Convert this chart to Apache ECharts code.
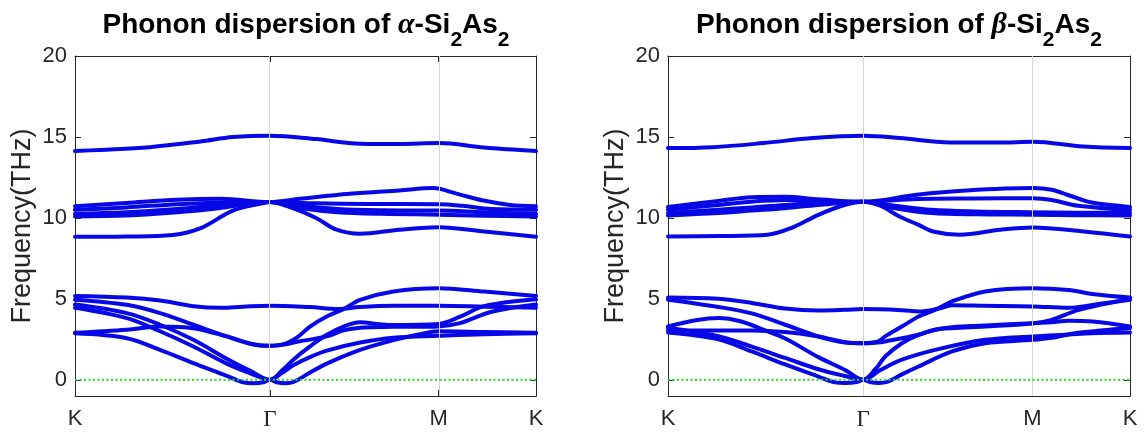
<!DOCTYPE html>
<html><head><meta charset="utf-8">
<script src="https://cdn.jsdelivr.net/npm/echarts@6/dist/echarts.min.js"></script>
<style>html,body{margin:0;padding:0;background:#fff}#c{width:1147px;height:439px}</style>
</head><body><div id="c"></div>
<script>
// high-symmetry path K - Γ - M - K (path length units, hexagonal BZ)
const pathLabels = ['K', 'Γ', 'M', 'K'];
const pathPos = [0, 1.3333, 2.4880, 3.1547];
const yTicks = [0, 5, 10, 15, 20];
const yRange = [-1, 20];
const titleAlpha = 'α';
const titleBeta = 'β';

// ---- α-Si2As2 bands: [path position, frequency THz]
const alphaB1 = [[0,14.13],[0.17,14.2],[0.51,14.37],[0.86,14.72],[1.08,14.99],[1.3333,15.08],[1.65,14.87],[1.95,14.58],[2.22,14.56],[2.488,14.62],[2.8,14.35],[3.1547,14.13]];
const alphaB2 = [[0,10.72],[0.35,10.92],[0.7,11.12],[1.0,11.18],[1.3333,10.98],[1.54,11.18],[1.88,11.49],[2.22,11.7],[2.45,11.84],[2.61,11.5],[2.795,11.07],[2.977,10.8],[3.1547,10.72]];
const alphaB3 = [[0,10.5],[0.35,10.65],[0.7,10.85],[1.0,10.95],[1.3333,10.98],[1.65,10.9],[2.0,10.86],[2.488,10.85],[2.65,10.75],[2.85,10.55],[3.1547,10.5]];
const alphaB4 = [[0,10.25],[0.35,10.35],[0.7,10.55],[1.0,10.78],[1.3333,10.98],[1.55,10.75],[1.8,10.55],[2.1,10.47],[2.488,10.45],[2.8,10.35],[3.1547,10.25]];
const alphaB5 = [[0,10.09],[0.35,10.15],[0.7,10.35],[1.0,10.62],[1.3333,10.98],[1.55,10.6],[1.8,10.35],[2.1,10.25],[2.488,10.2],[2.8,10.13],[3.1547,10.09]];
const alphaB6 = [[0,8.83],[0.35,8.85],[0.67,8.95],[0.86,9.37],[1.08,10.45],[1.27,10.88],[1.3333,10.98],[1.49,10.6],[1.65,9.99],[1.79,9.27],[1.95,9.02],[2.22,9.27],[2.488,9.43],[2.8,9.16],[3.1547,8.83]];
const alphaB7 = [[0,5.18],[0.354,5.08],[0.582,4.9],[0.81,4.55],[1.0,4.45],[1.15,4.52],[1.3333,4.58],[1.608,4.49],[1.8,4.38],[1.95,4.5],[2.18,4.57],[2.488,4.57],[2.8,4.52],[3.1547,4.45]];
const alphaB8 = [[0,4.95],[0.354,4.63],[0.582,4.12],[0.81,3.4],[1.038,2.68],[1.22,2.18],[1.3333,2.1],[1.43,2.2],[1.52,2.62],[1.608,3.29],[1.723,3.91],[1.837,4.36],[1.951,4.94],[2.179,5.46],[2.488,5.66],[2.8,5.45],[3.1547,5.18]];
const alphaB9 = [[0,4.65],[0.354,4.12],[0.582,3.4],[0.81,2.47],[1.038,1.3],[1.2,0.55],[1.3333,0],[1.42,0.6],[1.494,1.24],[1.608,2.06],[1.723,2.78],[1.837,3.29],[1.951,3.55],[2.07,3.45],[2.179,3.38],[2.488,3.45],[2.635,3.9],[2.8,4.55],[3.1547,4.97]];
const alphaB10 = [[0,4.45],[0.354,3.81],[0.582,3.0],[0.81,2.06],[1.038,1.0],[1.2,0.4],[1.3333,0],[1.42,0.45],[1.494,0.9],[1.608,1.4],[1.723,1.8],[1.951,2.3],[2.179,2.6],[2.488,2.72],[2.8,2.82],[3.1547,2.87]];
const alphaB11 = [[0,2.9],[0.354,3.09],[0.582,3.29],[0.81,3.19],[1.038,2.68],[1.22,2.2],[1.3333,2.1],[1.43,2.18],[1.52,2.35],[1.723,2.68],[1.837,3.05],[1.951,3.22],[2.179,3.27],[2.488,3.3],[2.635,3.5],[2.85,4.2],[3.1547,4.65]];
const alphaB12 = [[0,2.87],[0.354,2.57],[0.582,1.85],[0.81,1.03],[1.038,0.25],[1.152,-0.16],[1.22,-0.21],[1.29,-0.15],[1.3333,0],[1.38,-0.15],[1.44,-0.21],[1.5,-0.12],[1.6,0.4],[1.723,1.0],[1.951,1.85],[2.179,2.45],[2.35,2.8],[2.488,3.0],[2.8,2.95],[3.1547,2.9]];

// ---- β-Si2As2 bands
const betaB1 = [[0,14.31],[0.306,14.37],[0.65,14.62],[0.99,14.93],[1.3333,15.07],[1.583,14.93],[1.925,14.66],[2.266,14.66],[2.49,14.7],[2.836,14.41],[3.1547,14.31]];
const betaB2 = [[0,10.68],[0.344,11.05],[0.572,11.28],[0.8,11.3],[1.027,11.15],[1.3333,11.0],[1.7,11.43],[2.04,11.69],[2.49,11.84],[2.62,11.74],[2.736,11.4],[2.895,10.95],[3.1547,10.68]];
const betaB3 = [[0,10.5],[0.344,10.8],[0.572,11.0],[0.8,11.1],[1.027,11.05],[1.3333,11.0],[1.7,11.16],[2.1,11.2],[2.49,11.22],[2.62,11.1],[2.8,10.75],[3.1547,10.5]];
const betaB4 = [[0,10.3],[0.344,10.5],[0.572,10.65],[0.8,10.8],[1.027,10.9],[1.3333,11.0],[1.55,10.75],[1.8,10.5],[2.1,10.4],[2.49,10.35],[2.8,10.32],[3.1547,10.3]];
const betaB5 = [[0,10.15],[0.344,10.3],[0.572,10.45],[0.8,10.6],[1.027,10.8],[1.3333,11.0],[1.55,10.6],[1.8,10.3],[2.1,10.22],[2.49,10.2],[2.8,10.17],[3.1547,10.15]];
const betaB6 = [[0,8.85],[0.344,8.88],[0.68,8.96],[0.84,9.37],[1.027,10.19],[1.21,10.81],[1.3333,11.0],[1.45,10.75],[1.58,10.09],[1.711,9.57],[1.81,9.16],[1.99,8.96],[2.27,9.27],[2.49,9.41],[2.84,9.16],[3.1547,8.85]];
const betaB7 = [[0,5.08],[0.344,5.0],[0.572,4.75],[0.8,4.4],[1.027,4.28],[1.21,4.32],[1.3333,4.37],[1.6,4.3],[1.711,4.22],[1.85,4.4],[1.939,4.6],[2.166,4.57],[2.49,4.53],[2.736,4.45],[2.95,4.7],[3.1547,4.95]];
const betaB8 = [[0,4.95],[0.344,4.5],[0.572,4.1],[0.8,3.4],[1.027,2.68],[1.21,2.3],[1.3333,2.26],[1.43,2.35],[1.483,2.68],[1.597,3.29],[1.711,3.91],[1.824,4.32],[1.939,4.84],[2.166,5.46],[2.49,5.66],[2.736,5.55],[2.895,5.3],[3.1547,5.08]];
const betaB9 = [[0,3.3],[0.2,3.7],[0.344,3.81],[0.5,3.6],[0.65,3.1],[0.8,2.55],[1.027,1.4],[1.21,0.6],[1.3333,0],[1.42,0.7],[1.483,1.44],[1.597,2.26],[1.711,2.78],[1.824,3.09],[1.939,3.25],[2.166,3.35],[2.49,3.5],[2.62,3.55],[2.736,3.65],[2.9,3.6],[3.1547,3.3]];
const betaB10 = [[0,3.05],[0.344,3.05],[0.572,3.05],[0.8,2.95],[1.027,2.68],[1.21,2.32],[1.3333,2.26],[1.43,2.3],[1.483,2.37],[1.711,2.78],[1.824,3.09],[1.939,3.19],[2.166,3.29],[2.49,3.48],[2.62,3.7],[2.8,4.3],[3.1547,5.0]];
const betaB11 = [[0,3.2],[0.344,2.7],[0.572,2.05],[0.8,1.35],[1.027,0.65],[1.2,0.25],[1.3333,0],[1.45,0.6],[1.597,1.24],[1.824,1.85],[2.166,2.47],[2.49,2.68],[2.736,2.8],[2.895,2.88],[3.1547,2.92]];
const betaB12 = [[0,2.92],[0.344,2.5],[0.572,1.75],[0.8,0.95],[1.027,0.2],[1.14,-0.16],[1.21,-0.2],[1.29,-0.14],[1.3333,0],[1.38,-0.14],[1.44,-0.2],[1.5,-0.12],[1.6,0.35],[1.711,0.82],[1.939,1.75],[2.166,2.26],[2.49,2.47],[2.62,2.6],[2.8,2.9],[3.1547,3.2]];

const alphaBands = [alphaB1,alphaB2,alphaB3,alphaB4,alphaB5,alphaB6,alphaB7,alphaB8,alphaB9,alphaB10,alphaB11,alphaB12];
const betaBands = [betaB1,betaB2,betaB3,betaB4,betaB5,betaB6,betaB7,betaB8,betaB9,betaB10,betaB11,betaB12];

const AX = '#262626';
const BLUE = '#0808e6';
const xMax = pathPos[pathPos.length - 1];

function labelFor(v) {
  let best = 0;
  for (let i = 1; i < pathPos.length; i++) if (Math.abs(pathPos[i] - v) < Math.abs(pathPos[best] - v)) best = i;
  return pathLabels[best] === 'Γ' ? '{g|Γ}' : pathLabels[best];
}

function makeTitle(greek, cx) {
  return {
    text: '{n|Phonon dispersion of }{g|' + greek + '}{n|-Si}{s|2}{n|As}{s|2}',
    left: cx, top: 0, textAlign: 'center', padding: 0,
    textStyle: {
      rich: {
        n: { fontFamily: 'Liberation Sans', fontWeight: 'bold', fontSize: 28, color: '#000' },
        g: { fontFamily: 'Liberation Serif', fontStyle: 'italic', fontSize: 30, color: '#000' },
        s: { fontFamily: 'Liberation Sans', fontWeight: 'bold', fontSize: 21, color: '#000', padding: [30, 0, 0, 0] }
      }
    }
  };
}

const grids = [
  { left: 75, top: 56, width: 461, height: 340 },
  { left: 668, top: 56, width: 462, height: 340 }
];

const xAxes = [], yAxes = [];
[0, 1].forEach(g => {
  xAxes.push({
    type: 'value', gridIndex: g, min: 0, max: xMax, position: 'bottom',
    axisLine: { show: true, onZero: false, lineStyle: { color: AX, width: 1 } },
    axisTick: { show: true, inside: true, length: 6, customValues: [pathPos[1], pathPos[2]], lineStyle: { color: AX } },
    axisLabel: {
      show: true, customValues: pathPos, formatter: labelFor, showMinLabel: true, showMaxLabel: true,
      fontFamily: 'Liberation Sans', fontSize: 22, color: AX, margin: 12,
      rich: { g: { fontFamily: 'Liberation Serif', fontSize: 23, color: AX } }
    },
    splitLine: { show: false }
  });
  xAxes.push({
    type: 'value', gridIndex: g, min: 0, max: xMax, position: 'top',
    axisLine: { show: true, onZero: false, lineStyle: { color: AX, width: 1 } },
    axisTick: { show: true, inside: true, length: 6, customValues: [pathPos[1], pathPos[2]], lineStyle: { color: AX } },
    axisLabel: { show: false }, splitLine: { show: false }
  });
  yAxes.push({
    type: 'value', gridIndex: g, min: yRange[0], max: yRange[1], position: 'left',
    name: 'Frequency(THz)', nameLocation: 'middle', nameGap: 39,
    nameTextStyle: { fontFamily: 'Liberation Sans', fontSize: 27, color: AX },
    axisLine: { show: true, onZero: false, lineStyle: { color: AX, width: 1 } },
    axisTick: { show: true, inside: true, length: 6, customValues: yTicks, lineStyle: { color: AX } },
    axisLabel: { show: true, customValues: yTicks, fontFamily: 'Liberation Sans', fontSize: 22, color: AX, margin: 8 },
    splitLine: { show: false }
  });
  yAxes.push({
    type: 'value', gridIndex: g, min: yRange[0], max: yRange[1], position: 'right',
    axisLine: { show: true, onZero: false, lineStyle: { color: AX, width: 1 } },
    axisTick: { show: true, inside: true, length: 6, customValues: yTicks, lineStyle: { color: AX } },
    axisLabel: { show: false }, splitLine: { show: false }
  });
});

const series = [];
[0, 1].forEach(g => {
  const xi = g * 2, yi = g * 2;
  series.push({
    type: 'line', xAxisIndex: xi, yAxisIndex: yi, z: 1, silent: true, animation: false,
    data: [], showSymbol: false,
    markLine: {
      silent: true, symbol: ['none', 'none'], label: { show: false }, animation: false,
      lineStyle: { color: '#d4d4d4', width: 1, type: 'solid' },
      data: [{ xAxis: pathPos[1] }, { xAxis: pathPos[2] }]
    }
  });
  (g === 0 ? alphaBands : betaBands).forEach(b => {
    series.push({
      type: 'line', xAxisIndex: xi, yAxisIndex: yi, z: 3, data: b, smooth: 0.35,
      showSymbol: false, silent: true, animation: false,
      lineStyle: { color: BLUE, width: 4, cap: 'round', join: 'round' }
    });
  });
  series.push({
    type: 'line', xAxisIndex: xi, yAxisIndex: yi, z: 5, silent: true, animation: false,
    data: [[0, 0], [xMax, 0]], showSymbol: false,
    lineStyle: { color: '#22d822', width: 2, type: [2, 2.5] }
  });
});

const chart = echarts.init(document.getElementById('c'), null, { renderer: 'canvas' });
chart.setOption({
  backgroundColor: '#fff',
  animation: false,
  title: [makeTitle(titleAlpha, 306), makeTitle(titleBeta, 899)],
  grid: grids.map(g => Object.assign({ show: false, outerBoundsMode: 'none' }, g)),
  xAxis: xAxes,
  yAxis: yAxes,
  series: series
});
</script>
</body></html>
